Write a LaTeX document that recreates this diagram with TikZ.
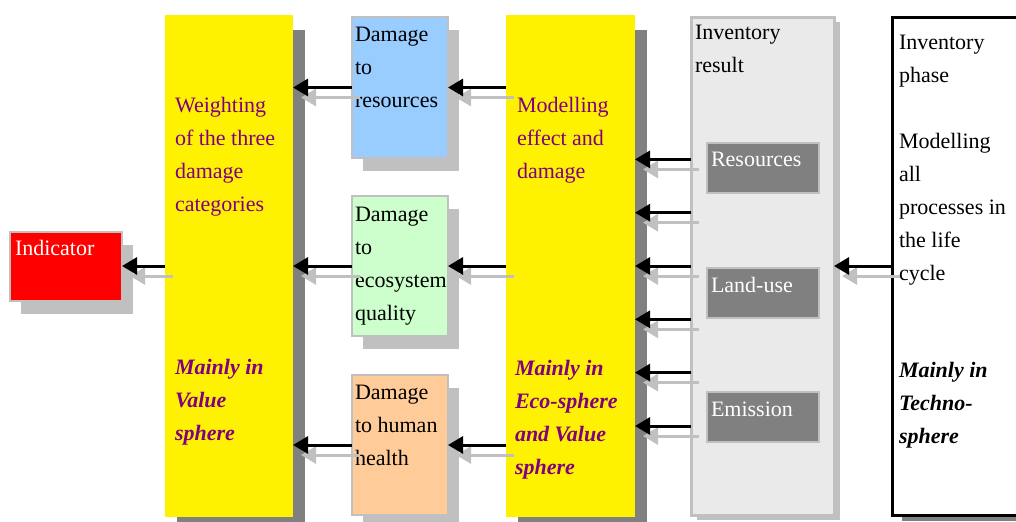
\documentclass[tikz,border=0pt]{standalone}
\usepackage{fontspec}
\setmainfont{Liberation Serif}
\usetikzlibrary{arrows.meta,shadows}
\definecolor{lgray}{HTML}{C0C0C0}
\definecolor{dgray}{HTML}{808080}
\definecolor{invgray}{HTML}{EAEAEA}
\definecolor{txtpurple}{HTML}{800080}
\definecolor{resblue}{HTML}{99CCFF}
\definecolor{ecogreen}{HTML}{CCFFCC}
\definecolor{healthpeach}{HTML}{FFCC99}

\begin{document}
\begin{tikzpicture}[x=0.5pt,y=-0.5pt]
        \tikzstyle{every node} = [rectangle, inner sep=0pt, outer sep=0pt]
        \tikzstyle{lshadow} = [drop shadow={shadow xshift=5.5pt, shadow yshift=-6.5pt, fill=lgray, opacity=1}]
        \tikzstyle{dshadow} = [drop shadow={shadow xshift=6pt, shadow yshift=-7.5pt, fill=dgray, opacity=1}]
        \tikzstyle{box} = [draw=lgray, line width=1pt, lshadow]
        \tikzstyle{bigbox} = [fill=yellow, dshadow, minimum width=64pt, minimum height=251pt]
        \tikzstyle{item} = [fill=dgray, draw=lgray, line width=1pt, minimum width=56pt, minimum height=25pt]
        \tikzstyle{txt} = [anchor=north west, align=left, font=\fontsize{11}{16.5}\selectfont]
        \tikzstyle{bold} = [txt, font=\fontsize{11}{16.5}\selectfont\bfseries\itshape]
        \tikzstyle{flow} = [line width=1.5pt, -{Triangle[length=7.5pt,width=8.5pt]}]
        \tikzstyle{flowshade} = [flow, lgray, transform canvas={xshift=4pt,yshift=-5pt}]

        \useasboundingbox (0,0) rectangle (1016,521);
        \clip (0,0) rectangle (1016,521);

        \node[box, fill=red, minimum width=56pt, minimum height=34.5pt] (ind) at (66,266.5) {};
        \node[bigbox] (weight) at (229,266) {};
        \node[box, fill=resblue, minimum width=48pt, minimum height=70.5pt] (dmgres) at (400,87.5) {};
        \node[box, fill=ecogreen, minimum width=48pt, minimum height=70pt] (dmgeco) at (400,266) {};
        \node[box, fill=healthpeach, minimum width=48pt, minimum height=70pt] (dmghealth) at (400,445) {};
        \node[bigbox, minimum width=64.5pt] (model) at (570.5,266) {};
        \node[draw=lgray, line width=1.5pt, fill=invgray, minimum width=71.5pt, minimum height=249pt,
              drop shadow={shadow xshift=3pt, shadow yshift=-2.5pt, fill=lgray, opacity=1}] (invres) at (762.5,266) {};
        \node[item] (resitem) at (763,168) {};
        \node[item] (landitem) at (763,292.5) {};
        \node[item] (emisitem) at (763,417) {};
        \node[draw=black, line width=1.5pt, fill=white, minimum width=64pt, minimum height=249pt,
              drop shadow={shadow xshift=5pt, shadow yshift=-3pt, fill=dgray, opacity=1}] (phase) at (956,266) {};

        \node[txt, text=white] (indtxt) at (15,240) {Indicator};
        \node[txt, text=txtpurple] (weighttxt) at (175,97) {Weighting\\of the three\\damage\\categories};
        \node[bold, text=txtpurple] (weightsph) at (175,359) {Mainly in\\Value\\sphere};
        \node[txt] (restxt) at (355,27) {Damage\\to\\resources};
        \node[txt] (ecotxt) at (355,207) {Damage\\to\\ecosystem\\quality};
        \node[txt] (healthtxt) at (355,385) {Damage\\to human\\health};
        \node[txt, text=txtpurple] (modeltxt) at (517,97) {Modelling\\effect and\\damage};
        \node[bold, text=txtpurple] (modelsph) at (515,360) {Mainly in\\Eco-sphere\\and Value\\sphere};
        \node[txt] (invtxt) at (695,25) {Inventory\\result};
        \node[txt, text=white] (restxt) at (711,152) {Resources};
        \node[txt, text=white] (landtxt) at (711,277) {Land-use};
        \node[txt, text=white] (emistxt) at (711,402) {Emission};
        \node[txt] (phasetxt) at (899,35) {Inventory\\phase\\[16.5pt]Modelling\\all\\processes in\\the life\\cycle};
        \node[bold] (phasesph) at (899,362) {Mainly in\\Techno-\\sphere};

        \foreach \from/\to in {dmgres/weight, dmgeco/weight, dmghealth/weight, weight/ind, phase/invres}
            {\draw[flowshade] (\from.west) -- (\from.west -| \to.east);
             \draw[flow] (\from.west) -- (\from.west -| \to.east);}
        \foreach \to in {dmgres, dmgeco, dmghealth}
            {\draw[flowshade] (\to.east -| model.west) -- (\to.east);
             \draw[flow] (\to.east -| model.west) -- (\to.east);}
        \foreach \dy [count=\k] in {53.3, 26.65, 0, -26.65, -53.3, -80}
            {\coordinate (inv\k) at ([yshift=\dy pt]invres.west);
             \draw[flowshade] (inv\k) -- (inv\k -| model.east);
             \draw[flow] (inv\k) -- (inv\k -| model.east);}
      \end{tikzpicture}
\end{document}
